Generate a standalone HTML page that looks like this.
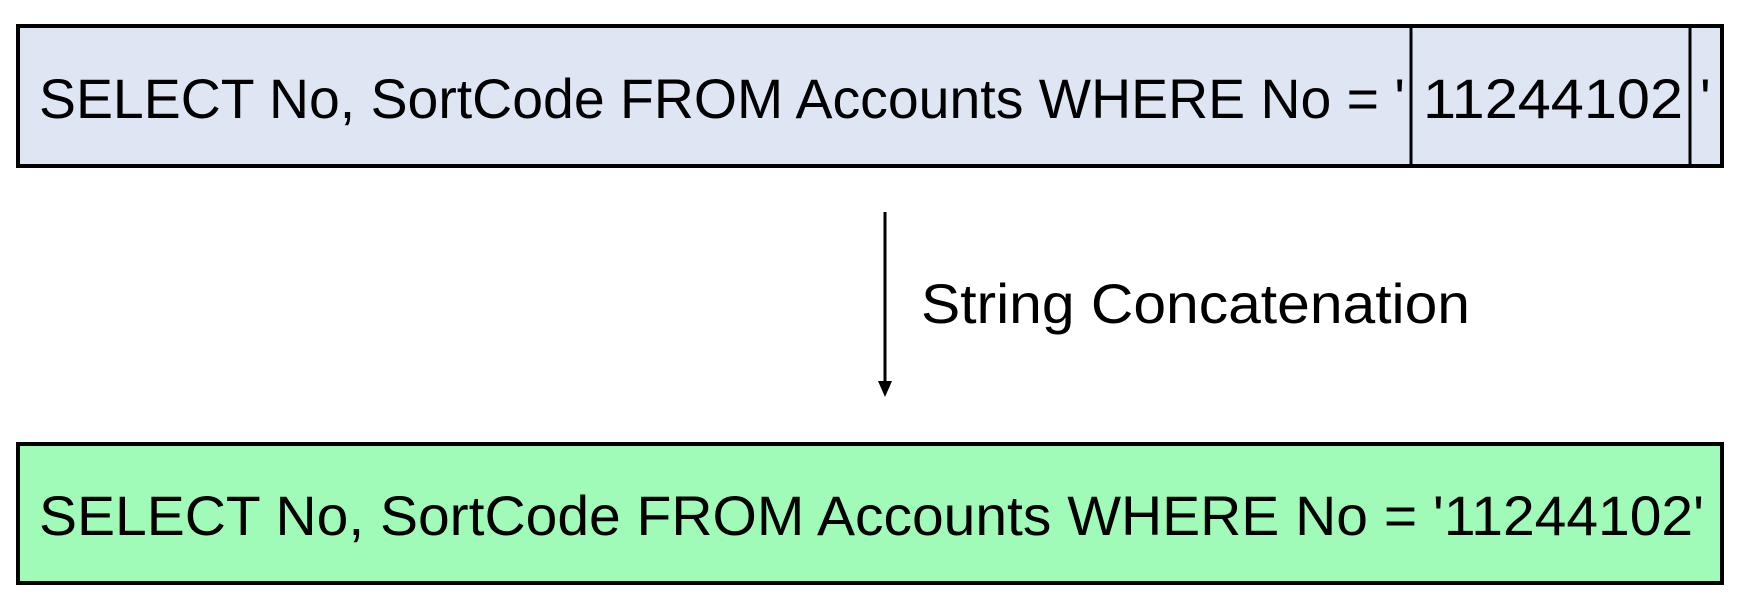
<!DOCTYPE html>
<html><head><meta charset="utf-8"><style>
html,body{margin:0;padding:0;background:#fff;width:1748px;height:616px;overflow:hidden}
svg{display:block}
text{font-family:"Liberation Sans",sans-serif;font-size:56px;fill:#000}
</style></head><body>
<svg width="1748" height="616" viewBox="0 0 1748 616" xmlns="http://www.w3.org/2000/svg">
<rect x="18" y="26" width="1704" height="140" fill="#dfe6f3" stroke="#000" stroke-width="4"/>
<line x1="1411" y1="26" x2="1411" y2="166" stroke="#000" stroke-width="3"/>
<line x1="1690" y1="26" x2="1690" y2="166" stroke="#000" stroke-width="3"/>
<text x="39" y="118" textLength="1366" lengthAdjust="spacingAndGlyphs">SELECT No, SortCode FROM Accounts WHERE No = '</text>
<text x="1423" y="118" textLength="260" lengthAdjust="spacingAndGlyphs">11244102</text>
<text x="1700" y="118">'</text>
<line x1="885" y1="212" x2="885" y2="384" stroke="#000" stroke-width="3"/>
<polygon points="878,381 892,381 885,397" fill="#000"/>
<text x="921" y="323" textLength="549" lengthAdjust="spacingAndGlyphs">String Concatenation</text>
<rect x="18" y="444" width="1704" height="139" fill="#a0fbb8" stroke="#000" stroke-width="4"/>
<text x="39" y="535" textLength="1665" lengthAdjust="spacingAndGlyphs">SELECT No, SortCode FROM Accounts WHERE No = '11244102'</text>
</svg>
</body></html>
